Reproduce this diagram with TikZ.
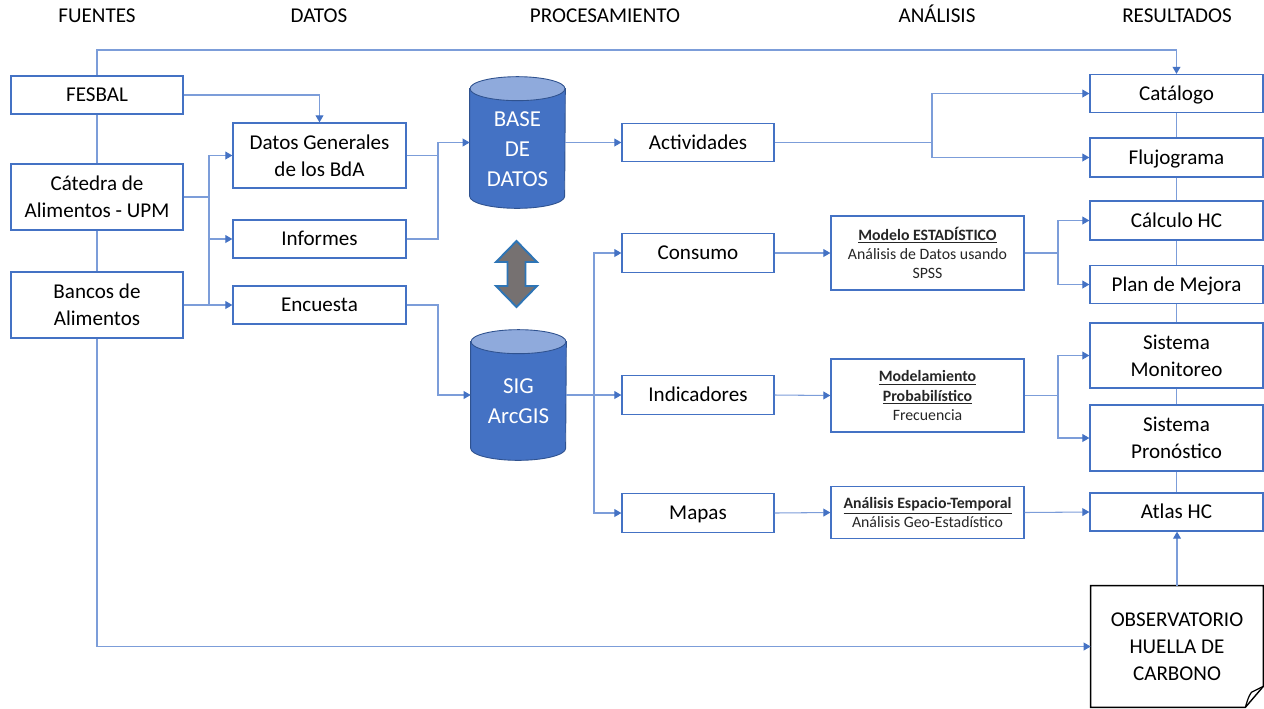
\documentclass[tikz,border=0pt]{standalone}
\usepackage{fontspec}
\setmainfont{Carlito}
\usetikzlibrary{arrows.meta}
\definecolor{boxblue}{HTML}{4472C4}
\definecolor{linkblue}{HTML}{7C9DD9}
\definecolor{cylbody}{HTML}{4472C4}
\definecolor{cyltop}{HTML}{8FAADC}
\definecolor{cyledge}{HTML}{2F528F}
\definecolor{arrgray}{HTML}{767171}
\definecolor{arredge}{HTML}{2E75B6}
\definecolor{smallgray}{HTML}{262626}

\newcommand\mtxt{\fontsize{12}{15.3}\selectfont}
\newcommand\stxt{\fontsize{9}{11}\selectfont}
\newcommand\ctxt{\fontsize{13}{17}\selectfont}

\begin{document}
\begin{tikzpicture}[x=0.02cm,y=-0.02cm,
  box/.style={draw=boxblue,line width=0.75pt,fill=white,inner sep=0pt,align=center,font=\mtxt,text=black},
  oneline/.style={text height=10.1pt,text depth=2.5pt},
  lbox/.style={box,minimum width=3.44cm},
  dbox/.style={box,minimum width=3.46cm},
  pbox/.style={box,oneline,minimum width=3.04cm,minimum height=0.77cm},
  abox/.style={box,minimum width=3.86cm,font=\stxt,text=smallgray},
  rbox/.style={box,minimum width=3.46cm},
  cylnode/.style={inner sep=0pt,minimum width=1.9cm},
  cyltext/.style={font=\ctxt,text=white,align=center,inner sep=0pt},
  head/.style={font=\mtxt,text=black,inner sep=0pt,anchor=base},
  link/.style={draw=linkblue,line width=0.6pt},
  flow/.style={link,-{Triangle[length=4pt,width=4.5pt,color=boxblue]}},
]
\useasboundingbox (0,0) rectangle (1264,708);

% column headings
\node[head] (h1) at (97,22) {FUENTES};
\node[head] (h2) at (319,22) {DATOS};
\node[head] (h3) at (605,22) {PROCESAMIENTO};
\node[head] (h4) at (937,22) {ANÁLISIS};
\node[head] (h5) at (1177,22) {RESULTADOS};

% sources
\node[lbox,oneline,minimum height=0.76cm] (fes) at (97,95) {FESBAL};
\node[lbox,minimum height=1.32cm] (cate) at (97,197) {Cátedra de\\Alimentos - UPM};
\node[lbox,minimum height=1.32cm] (ban) at (97,305) {Bancos de\\Alimentos};

% data
\node[dbox,minimum height=1.3cm] (dg) at (319.5,155.5) {Datos Generales\\de los BdA};
\node[dbox,oneline,minimum height=0.76cm] (inf) at (319.5,239) {Informes};
\node[dbox,oneline,minimum height=0.76cm] (enc) at (319.5,305) {Encuesta};

% databases
\node[cylnode,minimum height=2.62cm] (bd) at (517.5,142.5) {};
\node[cylnode,minimum height=2.6cm] (sig) at (518.5,395) {};
\foreach \c in {bd,sig}{
  \filldraw[fill=cylbody,draw=cyledge,line width=0.5pt]
    ([yshift=-0.24cm]\c.north west) -- ([yshift=0.24cm]\c.south west)
    arc[start angle=180,end angle=360,x radius=0.95cm,y radius=0.24cm]
    -- ([yshift=-0.24cm]\c.north east) -- cycle;
  \filldraw[fill=cyltop,draw=cyledge,line width=0.5pt]
    ([yshift=-0.24cm]\c.north) ellipse[x radius=0.95cm,y radius=0.24cm];
}
\node[cyltext] (bdlabel) at ([yshift=-0.14cm]bd.center) {BASE\\DE\\DATOS};
\node[cyltext] (siglabel) at ([yshift=-0.13cm]sig.center) {SIG\\ArcGIS};

% two-way exchange between the databases
\filldraw[fill=arrgray,draw=arredge,line width=1.1pt,line join=miter]
  (516.5,241) -- (537,262) -- (525.5,262) -- (525.5,286) -- (537,286)
  -- (516.5,307) -- (496,286) -- (507.5,286) -- (507.5,262) -- (496,262) -- cycle;

% processing
\node[pbox] (act) at (698,142.5) {Actividades};
\node[pbox] (con) at (698,253) {Consumo};
\node[pbox] (ind) at (698,395) {Indicadores};
\node[pbox] (map) at (698,513) {Mapas};

% analysis
\node[abox,minimum height=1.48cm] (mod) at (927.5,253)
  {\textbf{\underline{Modelo ESTADÍSTICO}}\\Análisis de Datos usando\\SPSS};
\node[abox,minimum height=1.46cm] (mdp) at (927.5,395.5)
  {\textbf{\underline{Modelamiento}}\\\textbf{\underline{Probabilístico}}\\Frecuencia};
\node[abox,minimum height=1.04cm] (esp) at (927.5,512.5)
  {\textbf{\underline{Análisis Espacio-Temporal}}\\Análisis Geo-Estadístico};

% results
\node[rbox,oneline,minimum height=0.76cm] (cat) at (1176.5,93.5) {Catálogo};
\node[rbox,oneline,minimum height=0.78cm] (flu) at (1176.5,157.5) {Flujograma};
\node[rbox,oneline,minimum height=0.78cm] (cal) at (1176.5,220.5) {Cálculo HC};
\node[rbox,oneline,minimum height=0.76cm] (plan) at (1176.5,284.5) {Plan de Mejora};
\node[rbox,minimum height=1.3cm] (mon) at (1176.5,355.5) {Sistema\\Monitoreo};
\node[rbox,minimum height=1.32cm] (pro) at (1176.5,438) {Sistema\\Pronóstico};
\node[rbox,oneline,minimum height=0.76cm] (atl) at (1176.5,512) {Atlas HC};

% observatory sheet with folded corner
\node[inner sep=0pt,minimum width=3.44cm,minimum height=2.42cm,align=center,font=\mtxt] (obs) at (1177,646.5)
  {OBSERVATORIO\\HUELLA DE\\CARBONO};
\draw[black,line width=0.8pt,line join=miter]
  (obs.north west) -- (obs.north east) -- ([yshift=0.42cm]obs.south east)
  -- ([xshift=-0.36cm]obs.south east) -- (obs.south west) -- cycle;
\draw[black,line width=0.7pt]
  ([xshift=-0.36cm]obs.south east) .. controls ([xshift=-0.3cm,yshift=0.2cm]obs.south east) .. ([xshift=-0.24cm,yshift=0.3cm]obs.south east)
  -- ([yshift=0.42cm]obs.south east);

% connectors: sources
\coordinate (topL) at (97,50);
\draw[flow] (fes.north) -- (topL) -| (cat.north);
\draw[link] (fes.south) -- (cate.north);
\draw[link] (cate.south) -- (ban.north);
\draw[flow] (ban.south) |- (obs.west);
\draw[flow] (fes.east) -| (dg.north);
\coordinate (jA) at (209,197);
\draw[link] (cate.east) -- (jA);
\draw[flow] (jA) |- (dg.west);
\draw[flow] (jA) |- (inf.west);
\draw[link] (jA) -- (jA |- enc.west);
\draw[flow] (ban.east) -- (enc.west);

% connectors: data to databases
\coordinate (jB) at (438,142.5);
\draw[link] (dg.east) -- (dg.east -| jB);
\draw[flow] (inf.east) -| (jB) -- (bd.west);
\coordinate (jC) at (438,395);
\draw[flow] (enc.east) -| (jC) -- (sig.west);

% connectors: processing
\draw[flow] (bd.east) -- (act.west);
\draw[flow] (sig.east) -- (ind.west);
\coordinate (jD) at (594,395);
\draw[flow] (jD) |- (con.west);
\draw[flow] (jD) |- (map.west);
\coordinate (jE) at (932,142.5);
\draw[link] (act.east) -- (jE);
\draw[flow] (jE) |- (cat.west);
\draw[flow] (jE) |- (flu.west);

% connectors: analysis
\draw[flow] (con.east) -- (mod.west);
\draw[flow] (ind.east) -- (mdp.west);
\draw[flow] (map.east) -- (esp.west);
\coordinate (jF) at (1058,253);
\draw[link] (mod.east) -- (jF);
\draw[flow] (jF) |- (cal.west);
\draw[flow] (jF) |- (plan.west);
\coordinate (jG) at (1058,395.5);
\draw[link] (mdp.east) -- (jG);
\draw[flow] (jG) |- (mon.west);
\draw[flow] (jG) |- (pro.west);
\draw[flow] (esp.east) -- (atl.west);

% connectors: results column
\draw[link] (cat.south) -- (flu.north);
\draw[link] (flu.south) -- (cal.north);
\draw[link] (cal.south) -- (plan.north);
\draw[link] (plan.south) -- (mon.north);
\draw[link] (mon.south) -- (pro.north);
\draw[link] (pro.south) -- (atl.north);
\draw[flow] (obs.north) -- (obs.north |- atl.south);
\end{tikzpicture}
\end{document}
